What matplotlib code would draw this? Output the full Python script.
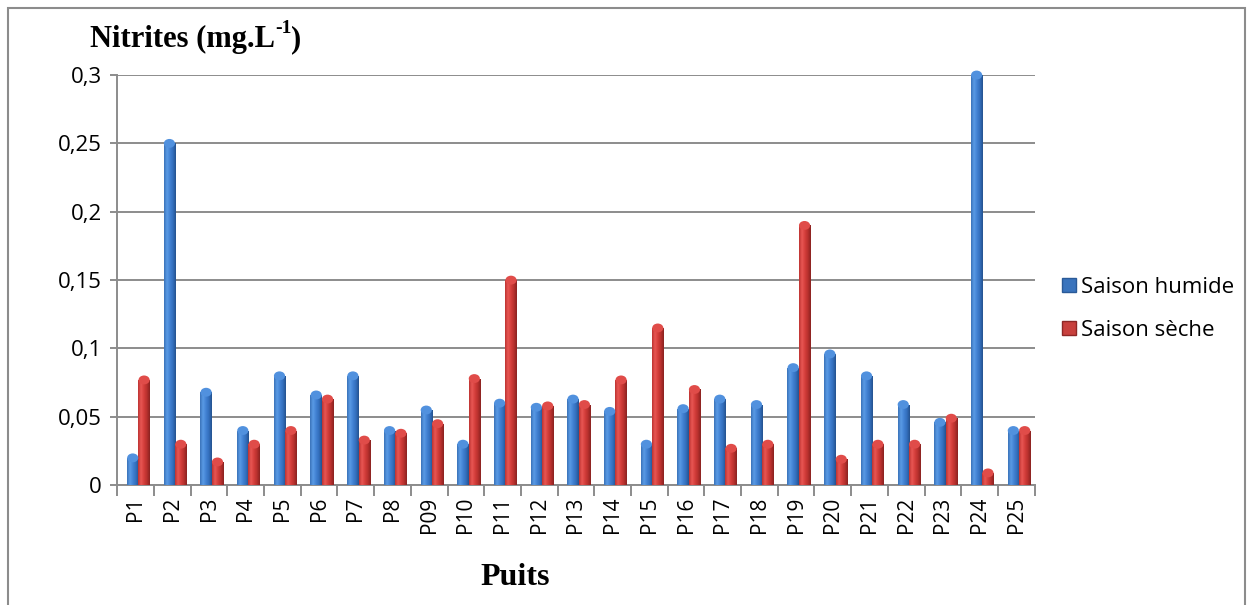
import numpy as np
import matplotlib
matplotlib.use("Agg")
from matplotlib import pyplot as plt
from matplotlib.colors import LinearSegmentedColormap
from matplotlib.patches import Ellipse, Rectangle
from matplotlib.lines import Line2D

# nitrite concentrations per well (mg/L)
puits = ["P1", "P2", "P3", "P4", "P5", "P6", "P7", "P8", "P09", "P10",
         "P11", "P12", "P13", "P14", "P15", "P16", "P17", "P18", "P19", "P20",
         "P21", "P22", "P23", "P24", "P25"]
saison_humide = [0.020, 0.250, 0.068, 0.040, 0.080, 0.066, 0.080, 0.040, 0.055, 0.030,
                 0.060, 0.057, 0.063, 0.054, 0.030, 0.056, 0.063, 0.059, 0.086, 0.096,
                 0.080, 0.059, 0.046, 0.300, 0.040]
saison_seche = [0.077, 0.030, 0.017, 0.030, 0.040, 0.063, 0.033, 0.038, 0.045, 0.078,
                0.150, 0.058, 0.059, 0.077, 0.115, 0.070, 0.027, 0.030, 0.190, 0.019,
                0.030, 0.030, 0.049, 0.009, 0.040]
yticks = [0, 0.05, 0.1, 0.15, 0.2, 0.25, 0.3]
ytick_labels = ["0", "0,05", "0,1", "0,15", "0,2", "0,25", "0,3"]

label_font = "Open Sans"
serif_font = "Liberation Serif"

blue_cmap = LinearSegmentedColormap.from_list(
    "cyl_blue", ["#3a72b9", "#5a9be5", "#4282d3", "#336fbd", "#24528f"])
red_cmap = LinearSegmentedColormap.from_list(
    "cyl_red", ["#bd3331", "#e85754", "#d43e3b", "#b8302d", "#8a2221"])


def shade_bars(ax, bars, cmap, cap_color):
    # fake a cylinder: horizontal gradient clipped to each bar plus a cap on top
    grad = np.linspace(0, 1, 64).reshape(1, -1)
    for b in bars:
        x0 = b.get_x()
        w = b.get_width()
        h = b.get_height()
        im = ax.imshow(grad, extent=[x0, x0 + w, 0, h], aspect="auto",
                       cmap=cmap, zorder=3.1, interpolation="bilinear")
        im.set_clip_path(b)
        cap = Ellipse((x0 + w / 2, h), w * 0.98, 0.0065, facecolor=cap_color,
                      edgecolor="none", zorder=3.2, clip_on=False)
        ax.add_patch(cap)


fig = plt.figure(figsize=(12.48, 6.05), dpi=100)
ax = fig.add_axes([0.094, 0.198, 0.735, 0.678])

x = np.arange(len(puits))
bw = 0.31
b_hum = ax.bar(x - 0.08, saison_humide, width=bw, color="#3d7cc9", zorder=3)
b_sec = ax.bar(x + 0.23, saison_seche, width=bw, color="#cc3a37", zorder=3)
shade_bars(ax, b_hum, blue_cmap, "#5191de")
shade_bars(ax, b_sec, red_cmap, "#e04c49")

ax.set_xlim(-0.5, len(puits) - 0.5)
ax.set_ylim(0, 0.3)

ax.set_yticks(yticks)
ax.set_yticklabels(ytick_labels, family=label_font, fontsize=16)
ax.yaxis.grid(True, color="#8c8c8c", linewidth=1.4, zorder=0)
ax.set_axisbelow(True)

ax.set_xticks(x)
ax.set_xticklabels(puits, rotation=90, family=label_font, fontsize=15)
ax.set_xticks(np.arange(len(puits) + 1) - 0.5, minor=True)
ax.tick_params(axis="x", which="major", length=0, pad=8)
ax.tick_params(axis="x", which="minor", length=8, color="#8c8c8c", width=1.4)
ax.tick_params(axis="y", length=5, color="#8c8c8c", width=1.4, pad=6)

for side in ["top", "right"]:
    ax.spines[side].set_visible(False)
for side in ["left", "bottom"]:
    ax.spines[side].set_color("#8c8c8c")
    ax.spines[side].set_linewidth(1.4)

# title built from pieces so the exponent is a small raised "-1"
renderer = fig.canvas.get_renderer()
t1 = fig.text(0.072, 0.935, "Nitrites (mg.L", family=serif_font,
              fontweight="bold", fontsize=22, ha="left", va="center")
x_end = t1.get_window_extent(renderer).x1 / fig.bbox.width
t2 = fig.text(x_end, 0.953, "-1", family=serif_font, fontweight="bold",
              fontsize=14, ha="left", va="center")
x_end = t2.get_window_extent(renderer).x1 / fig.bbox.width
fig.text(x_end, 0.935, ")", family=serif_font, fontweight="bold",
         fontsize=22, ha="left", va="center")

fig.text(0.413, 0.045, "Puits", family=serif_font, fontweight="bold",
         fontsize=23, ha="center", va="center")

handles = [
    Line2D([], [], linestyle="none", marker="s", markersize=10,
           markerfacecolor="#3a74bd", markeredgecolor="#2a5a98"),
    Line2D([], [], linestyle="none", marker="s", markersize=10,
           markerfacecolor="#c8403d", markeredgecolor="#8e2726"),
]
fig.legend(handles, ["Saison humide", "Saison sèche"], loc="center left",
           bbox_to_anchor=(0.835, 0.489), frameon=False, handlelength=0.6,
           handletextpad=0.25, labelspacing=1.0, prop={"family": label_font, "size": 16})

# outer frame of the figure
fig.patches.append(Rectangle((0.0064, -0.01), 0.991, 0.997, transform=fig.transFigure,
                             fill=False, edgecolor="#8c8c8c", linewidth=1.5))

fig.savefig("out.png", dpi=100)
